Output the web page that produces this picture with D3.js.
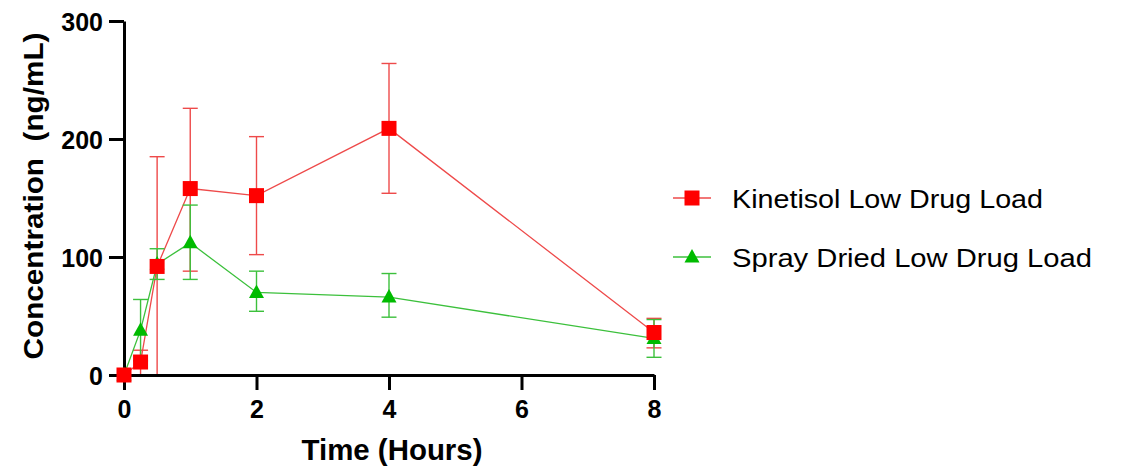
<!DOCTYPE html>
<html>
<head>
<meta charset="utf-8">
<script src="https://cdn.jsdelivr.net/npm/d3@7"></script>
<style>
  body { margin: 0; background: #fff; }
  svg { font-family: "Liberation Sans", Arial, sans-serif; }
</style>
</head>
<body>
<div id="graph"></div>
<script>
let w = 1122;
let h = 468;

// time points (hours)
let times = [0, 0.25, 0.5, 1, 2, 4, 8];

// Kinetisol Low Drug Load
let kinMean = [0, 11, 92, 158, 152, 209, 36];
let kinLow  = [0, 0, 0, 88, 102, 154, 23];
let kinHigh = [0, 21, 185, 226, 202, 264, 48];

// Spray Dried Low Drug Load
let sprMean = [0, 38, 94, 112, 70, 66, 31];
let sprLow  = [0, 12, 81, 81, 54, 49, 15];
let sprHigh = [0, 64, 107, 144, 88, 86, 47];

let xTicks = [0, 2, 4, 6, 8];
let yTicks = [0, 100, 200, 300];

let seriesNames = ["Kinetisol Low Drug Load", "Spray Dried Low Drug Load"];

function buildSeries(mean, low, high){
  return times.map(function(t, i){
    return {t: t, v: mean[i], lo: low[i], hi: high[i]};
  });
}

let series = [
  {name: seriesNames[0], data: buildSeries(kinMean, kinLow, kinHigh), color: "#ff0000", line: "#ee4a4a", shape: "square", legW: 311},
  {name: seriesNames[1], data: buildSeries(sprMean, sprLow, sprHigh), color: "#00bb00", line: "#3cc03c", shape: "triangle", legW: 360}
];

let xScale = d3.scaleLinear().domain([0, 8]).range([124, 654]);
let yScale = d3.scaleLinear().domain([0, 300]).range([375, 21]);

let viz = d3.select("#graph")
  .append("svg")
    .attr("width", w)
    .attr("height", h)
;

// error bars + lines
series.forEach(function(s){
  let g = viz.append("g").attr("class", "series");

  let bars = g.selectAll(".err").data(s.data.filter(function(d){ return d.hi > d.lo; }))
    .enter().append("g").attr("class", "err")
    .attr("stroke", s.line)
    .attr("stroke-width", 1.4);

  bars.append("line")
    .attr("x1", function(d){ return xScale(d.t); })
    .attr("x2", function(d){ return xScale(d.t); })
    .attr("y1", function(d){ return yScale(d.lo); })
    .attr("y2", function(d){ return yScale(d.hi); });
  bars.append("line")
    .attr("x1", function(d){ return xScale(d.t) - 7.5; })
    .attr("x2", function(d){ return xScale(d.t) + 7.5; })
    .attr("y1", function(d){ return yScale(d.hi); })
    .attr("y2", function(d){ return yScale(d.hi); });
  bars.filter(function(d){ return d.lo > 0; }).append("line")
    .attr("x1", function(d){ return xScale(d.t) - 7.5; })
    .attr("x2", function(d){ return xScale(d.t) + 7.5; })
    .attr("y1", function(d){ return yScale(d.lo); })
    .attr("y2", function(d){ return yScale(d.lo); });

  let line = d3.line()
    .x(function(d){ return xScale(d.t); })
    .y(function(d){ return yScale(d.v); });

  g.append("path")
    .datum(s.data)
    .attr("d", line)
    .attr("fill", "none")
    .attr("stroke", s.line)
    .attr("stroke-width", 1.3);
});

// axes
let xAxis = d3.axisBottom(xScale).tickValues(xTicks).tickSize(15).tickSizeOuter(0).tickPadding(10);
let yAxis = d3.axisLeft(yScale).tickValues(yTicks).tickSize(15).tickSizeOuter(0).tickPadding(6);

let xAxisGroup = viz.append("g").attr("class", "xaxis")
  .attr("transform", "translate(0,375)")
  .call(xAxis);
let yAxisGroup = viz.append("g").attr("class", "yaxis")
  .attr("transform", "translate(124,0)")
  .call(yAxis);

[xAxisGroup, yAxisGroup].forEach(function(ag){
  ag.select(".domain").attr("stroke", "#000").attr("stroke-width", 3);
  ag.selectAll(".tick line").attr("stroke", "#000").attr("stroke-width", 3);
  ag.selectAll(".tick text")
    .attr("fill", "#000")
    .style("font-size", "25px")
    .style("font-weight", "bold")
    .style("font-family", "'Liberation Sans', Arial, sans-serif");
});
yAxisGroup.selectAll(".tick text").attr("dy", "0.38em");

// markers
function drawMarker(sel, shape, color){
  if(shape == "square"){
    sel.append("rect")
      .attr("x", -7.5).attr("y", -7.5)
      .attr("width", 15).attr("height", 15)
      .attr("fill", color);
  } else {
    sel.append("path")
      .attr("d", "M0,-8L7.5,5.5L-7.5,5.5Z")
      .attr("fill", color);
  }
}

// green first so red squares sit on top
series.slice().reverse().forEach(function(s){
  let marks = viz.append("g").selectAll(".mark").data(s.data)
    .enter().append("g").attr("class", "mark")
    .attr("transform", function(d){ return "translate(" + xScale(d.t) + "," + yScale(d.v) + ")"; });
  drawMarker(marks, s.shape, s.color);
});

// axis titles
viz.append("text")
  .attr("x", 392).attr("y", 460)
  .attr("text-anchor", "middle")
  .attr("textLength", 181)
  .attr("lengthAdjust", "spacingAndGlyphs")
  .style("font-size", "29px").style("font-weight", "bold")
  .text("Time (Hours)");

viz.append("text")
  .attr("transform", "translate(43,196) rotate(-90)")
  .attr("text-anchor", "middle")
  .attr("textLength", 327)
  .attr("lengthAdjust", "spacingAndGlyphs")
  .style("font-size", "27px").style("font-weight", "bold")
  .text("Concentration\u00a0 (ng/mL)");

// legend
let legend = viz.append("g").selectAll(".leg").data(series)
  .enter().append("g").attr("class", "leg")
  .attr("transform", function(d, i){ return "translate(692," + (198 + i * 59) + ")"; });

legend.append("line")
  .attr("x1", -19).attr("x2", 19)
  .attr("stroke", function(d){ return d.line; })
  .attr("stroke-width", 1.4);
legend.each(function(d){
  drawMarker(d3.select(this), d.shape, d.color);
});
legend.append("text")
  .attr("x", 40).attr("y", 10)
  .attr("textLength", function(d){ return d.legW; })
  .attr("lengthAdjust", "spacingAndGlyphs")
  .style("font-size", "25px")
  .attr("fill", "#000")
  .text(function(d){ return d.name; });
</script>
</body>
</html>
